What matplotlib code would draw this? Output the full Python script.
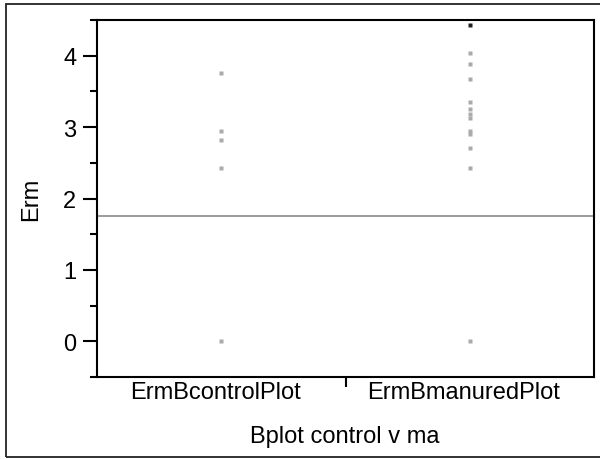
import numpy as np
import matplotlib as mpl
mpl.use('Agg')
import matplotlib.pyplot as plt
from matplotlib.patches import Rectangle

plt.rcParams['font.family'] = ['Liberation Sans', 'DejaVu Sans']

# Erm values by plot type
groups = ['ErmBcontrolPlot', 'ErmBmanuredPlot']
erm_control = [3.76, 2.94, 2.82, 2.43, 0.0]
erm_manured = [4.04, 3.88, 3.68, 3.35, 3.25, 3.19, 3.13, 2.94, 2.90, 2.71, 2.43, 0.0]
erm_manured_top = [4.43]
grand_mean = 1.75

y_ticks = [0, 1, 2, 3, 4]
x_title = 'Bplot control v ma'
y_title = 'Erm'

fs = 17

fig = plt.figure(figsize=(6, 4.6), dpi=100)
ax = fig.add_axes([97 / 600, 1 - 378 / 460, (594 - 97) / 600, (378 - 21) / 460])

# outer frame around the whole figure
fig.patches.append(Rectangle((6 / 600, 1 - 458 / 460), 1.0, (458 - 5) / 460,
                             transform=fig.transFigure, fill=False,
                             edgecolor='#222222', linewidth=1.3, clip_on=False))

pts = '#ababab'
ax.plot(np.full(len(erm_control), 0.5), erm_control, 's', ms=2.8, color=pts, mec='none')
ax.plot(np.full(len(erm_manured), 1.5), erm_manured, 's', ms=2.8, color=pts, mec='none')
ax.plot(np.full(len(erm_manured_top), 1.5), erm_manured_top, 's', ms=2.8, color='#202020', mec='none')

ax.axhline(grand_mean, color='#8a8a8a', lw=1.2)

ax.set_xlim(0, 2)
ax.set_ylim(-0.5, 4.5)

ax.set_yticks(y_ticks)
ax.set_yticks(np.arange(-0.5, 4.6, 0.5), minor=True)
ax.tick_params(axis='y', which='major', length=10, width=1.5, labelsize=fs, pad=5)
ax.tick_params(axis='y', which='minor', length=5, width=1.5)

ax.set_xticks([1])
ax.set_xticklabels([''])
ax.tick_params(axis='x', which='major', length=7, width=1.5)
# group names sit a little left of the group centres
for i, g in enumerate(groups):
    ax.text(i + 0.475, -0.56, g, ha='center', va='top', fontsize=fs, clip_on=False)

for s in ax.spines.values():
    s.set_linewidth(1.5)

fig.text(345 / 600, 1 - 437 / 460, x_title, ha='center', va='center', fontsize=fs)
fig.text(31 / 600, 1 - 199 / 460, y_title, ha='center', va='center', fontsize=fs,
         rotation=90)

fig.savefig('out.png', dpi=100)
